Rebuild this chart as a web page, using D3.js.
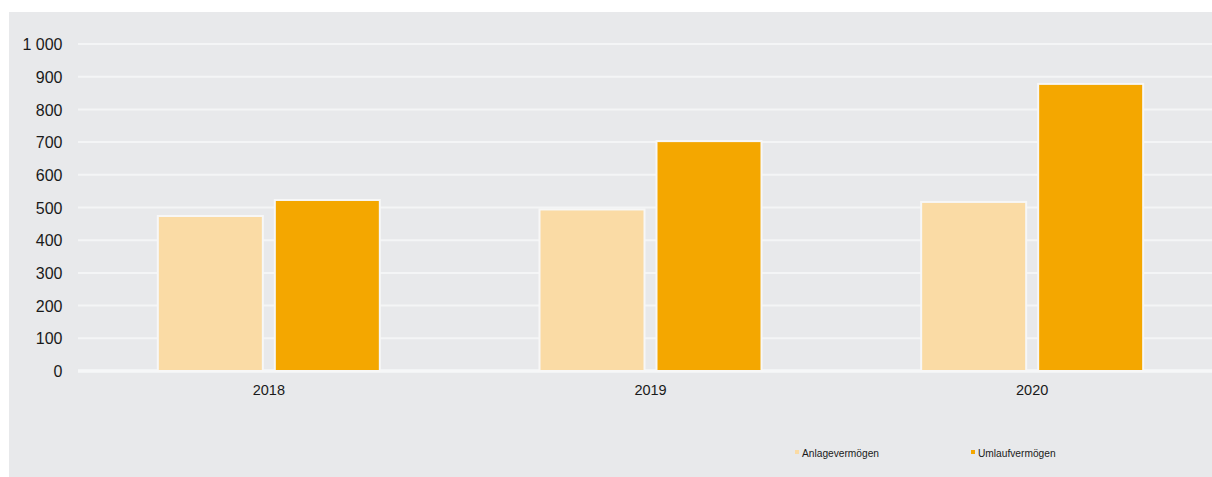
<!DOCTYPE html>
<html>
<head>
<meta charset="utf-8">
<script src="https://cdn.jsdelivr.net/npm/d3@7"></script>
<style>
  html, body { margin: 0; padding: 0; background: #ffffff; }
  svg { display: block; font-family: "Liberation Sans", Arial, sans-serif; }
</style>
</head>
<body>
<svg id="chart" width="1212" height="477"></svg>
<script>
// Balance sheet assets per year
const years = ["2018", "2019", "2020"];
const seriesNames = ["Anlagevermögen", "Umlaufvermögen"];
const anlage = [474, 494, 517];
const umlauf = [523, 703, 878];
const yTicks = [0, 100, 200, 300, 400, 500, 600, 700, 800, 900, 1000];
const colors = ["#FADBA5", "#F4A700"];

(function () {
  const svg = d3.select("#chart");
  const W = 1212, H = 477;

  // Grey panel behind the chart
  svg.append("rect")
    .attr("x", 9).attr("y", 12)
    .attr("width", W - 9).attr("height", H - 12)
    .attr("fill", "#E8E9EB");

  const mLeft = 78, mRight = 1223, mTop = 44, mBottom = 371;

  const x = d3.scaleBand().domain(years).range([mLeft, mRight]).paddingInner(0).paddingOuter(0);
  const y = d3.scaleLinear().domain([0, 1000]).range([mBottom, mTop]);

  svg.append("clipPath").attr("id", "panel")
    .append("rect").attr("x", 9).attr("y", 12).attr("width", W - 9).attr("height", H - 12);

  const g = svg.append("g").attr("clip-path", "url(#panel)");

  // Horizontal gridlines
  g.selectAll("line.grid")
    .data(yTicks)
    .join("line")
    .attr("class", "grid")
    .attr("x1", mLeft).attr("x2", W)
    .attr("y1", d => y(d)).attr("y2", d => y(d))
    .attr("stroke", d => d === 0 ? "#F6F7F8" : "#F4F5F6")
    .attr("stroke-width", d => d === 0 ? 3.5 : 2);

  // Y axis labels, space as thousands separator
  const fmt = v => d3.format(",")(v).replace(/,/g, " ");
  const yAxis = d3.axisLeft(y).tickValues(yTicks).tickSize(0).tickPadding(0).tickFormat(fmt);
  const ya = svg.append("g").attr("transform", "translate(62.5,0.5)").call(yAxis);
  ya.select(".domain").remove();
  ya.selectAll("text")
    .attr("fill", "#1a1a1a")
    .style("font-size", "16px")
    .style("font-family", "'Liberation Sans', Arial, sans-serif");

  // X axis labels
  const xAxis = d3.axisBottom(x).tickSize(0).tickPadding(0);
  const xa = svg.append("g").attr("transform", "translate(0,384.7)").call(xAxis);
  xa.select(".domain").remove();
  xa.selectAll("text")
    .attr("fill", "#1a1a1a")
    .style("font-size", "14.5px")
    .style("font-family", "'Liberation Sans', Arial, sans-serif");

  // Grouped bars
  const barW = 105, gap = 12;
  const x1 = d3.scaleOrdinal().domain([0, 1]).range([-(barW + gap / 2), gap / 2]);
  const groups = years.map((yr, i) => ({ yr, vals: [anlage[i], umlauf[i]] }));

  const grp = g.selectAll("g.year")
    .data(groups)
    .join("g")
    .attr("class", "year")
    .attr("transform", d => `translate(${x(d.yr) + x.bandwidth() / 2},0)`);

  grp.selectAll("rect")
    .data(d => d.vals.map((v, k) => ({ v, k })))
    .join("rect")
    .attr("x", d => x1(d.k))
    .attr("width", barW)
    .attr("y", d => y(d.v))
    .attr("height", d => y(0) - y(d.v))
    .attr("fill", d => colors[d.k])
    .attr("stroke", "#F7F7F7")
    .attr("stroke-width", 2);

  // Legend
  const legendX = [795, 971];
  const leg = svg.selectAll("g.legend")
    .data(seriesNames)
    .join("g")
    .attr("class", "legend")
    .attr("transform", (d, i) => `translate(${legendX[i]},450)`);
  leg.append("rect")
    .attr("x", 0).attr("y", 0).attr("width", 4).attr("height", 4)
    .attr("fill", (d, i) => colors[i]);
  leg.append("text")
    .attr("x", 7).attr("y", 6.6)
    .attr("fill", "#1a1a1a")
    .style("font-size", "10.2px")
    .text(d => d);
})();
</script>
</body>
</html>
